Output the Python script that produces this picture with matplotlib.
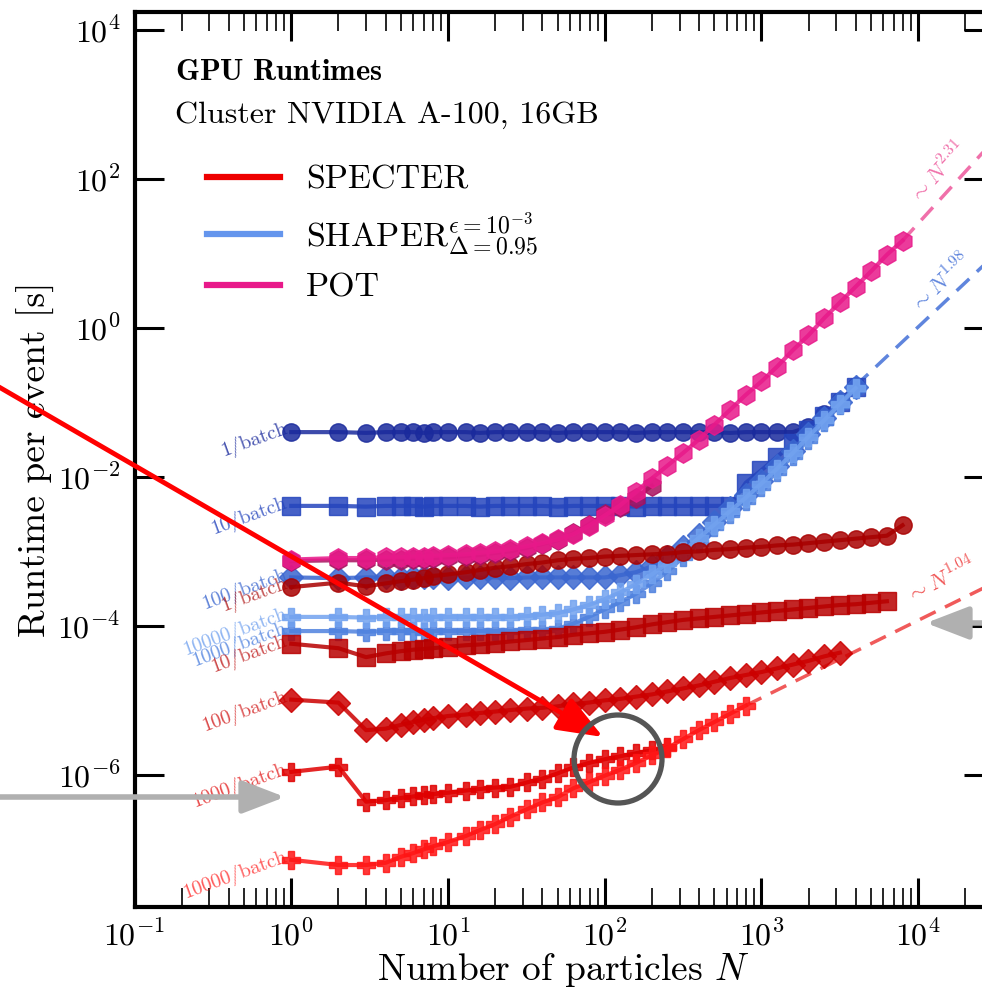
import numpy as np
import matplotlib
matplotlib.use("Agg")
import matplotlib.pyplot as plt
from matplotlib.ticker import LogLocator, FixedLocator, FuncFormatter, NullFormatter, NullLocator
from matplotlib.patches import FancyArrowPatch, Circle
from matplotlib.lines import Line2D

plt.rcParams['font.family'] = 'serif'
plt.rcParams['font.serif'] = ['cmr10']
plt.rcParams['mathtext.fontset'] = 'cm'
plt.rcParams['axes.formatter.use_mathtext'] = True

# number of particles N (measurement grid)
N = [1, 2, 3, 4, 5, 6, 7, 8, 10, 13, 16, 20, 25, 32, 40, 50, 63, 79, 100, 126, 158,
     200, 251, 316, 398, 501, 631, 794, 1000, 1259, 1585, 1995, 2512, 3162, 3981,
     5012, 6310, 7943]

# log10 of runtime per event [s]
specter_1 = [-3.48, -3.42, -3.47, -3.43, -3.40, -3.38, -3.36, -3.33, -3.31, -3.28, -3.25,
             -3.22, -3.20, -3.17, -3.15, -3.12, -3.10, -3.09, -3.07, -3.06, -3.05, -3.04,
             -3.03, -3.01, -3.00, -2.98, -2.97, -2.95, -2.94, -2.92, -2.91, -2.89, -2.87,
             -2.85, -2.83, -2.81, -2.79, -2.65]
specter_10 = [-4.24, -4.30, -4.42, -4.37, -4.34, -4.32, -4.31, -4.30, -4.28, -4.26, -4.25,
              -4.23, -4.21, -4.19, -4.17, -4.15, -4.12, -4.10, -4.08, -4.05, -4.02, -3.98,
              -3.95, -3.92, -3.90, -3.88, -3.86, -3.84, -3.82, -3.80, -3.78, -3.76, -3.74,
              -3.72, -3.71, -3.69, -3.67]
specter_100 = [-4.99, -5.03, -5.40, -5.38, -5.33, -5.29, -5.26, -5.24, -5.21, -5.19, -5.17,
               -5.15, -5.13, -5.11, -5.10, -5.08, -5.05, -5.03, -5.00, -4.98, -4.95, -4.92,
               -4.88, -4.84, -4.80, -4.75, -4.70, -4.66, -4.62, -4.57, -4.52, -4.47, -4.41,
               -4.36]
specter_1000 = [-5.96, -5.89, -6.36, -6.34, -6.31, -6.29, -6.27, -6.26, -6.24, -6.21, -6.19,
                -6.17, -6.16, -6.10, -6.05, -5.98, -5.90, -5.84, -5.79, -5.75, -5.71, -5.67,
                -5.63]
specter_10000 = [-7.14, -7.21, -7.21, -7.18, -7.10, -7.05, -7.00, -6.96, -6.90, -6.82, -6.74,
                 -6.66, -6.56, -6.46, -6.37, -6.30, -6.18, -6.10, -6.01, -5.93, -5.84, -5.74,
                 -5.64, -5.52, -5.40, -5.29, -5.18, -5.07]

shaper_1 = [-1.40, -1.40, -1.41, -1.40, -1.40, -1.40, -1.41, -1.40, -1.40, -1.40, -1.41,
            -1.40, -1.40, -1.40, -1.40, -1.41, -1.40, -1.40, -1.40, -1.40, -1.41, -1.40,
            -1.40, -1.40, -1.40, -1.40, -1.41, -1.40, -1.40, -1.40, -1.40, -1.33, -1.16,
            -0.98, -0.78]
shaper_10 = [-2.39, -2.39, -2.40, -2.39, -2.39, -2.39, -2.40, -2.39, -2.39, -2.39, -2.40,
             -2.39, -2.39, -2.39, -2.39, -2.40, -2.39, -2.39, -2.39, -2.39, -2.40, -2.39,
             -2.39, -2.39, -2.39, -2.39, -2.39, -2.08, -1.91, -1.73, -1.55, -1.37, -1.18,
             -1.00, -0.80]
shaper_100 = [-3.35, -3.36, -3.35, -3.35, -3.36, -3.35, -3.35, -3.35, -3.36, -3.35, -3.35,
              -3.35, -3.36, -3.35, -3.35, -3.35, -3.35, -3.35, -3.35, -3.32, -3.28, -3.20,
              -3.08, -2.94, -2.78, -2.60, -2.42, -2.24, -2.05, -1.86, -1.65, -1.43, -1.21,
              -1.00, -0.80]
shaper_1000 = [-4.07, -4.07, -4.08, -4.07, -4.07, -4.07, -4.08, -4.07, -4.07, -4.07, -4.07,
               -4.07, -4.07, -4.06, -4.06, -4.04, -3.97, -3.88, -3.78, -3.68, -3.57, -3.43,
               -3.27, -3.08, -2.89, -2.68, -2.50, -2.32, -2.14, -1.93, -1.72, -1.50, -1.27,
               -1.04, -0.82]
shaper_10000 = [-3.88, -3.88, -3.89, -3.88, -3.88, -3.88, -3.89, -3.88, -3.88, -3.88, -3.88,
                -3.88, -3.88, -3.87, -3.85, -3.83, -3.78, -3.72, -3.64, -3.55, -3.44, -3.31,
                -3.16, -3.00, -2.82, -2.64, -2.46, -2.28, -2.09, -1.89, -1.68, -1.46, -1.24,
                -1.02, -0.81]

pot_a = [-3.13, -3.12, -3.12, -3.11, -3.11, -3.10, -3.10, -3.09, -3.08, -3.06, -3.05,
         -3.02, -3.00, -2.95, -2.90, -2.85, -2.76, -2.64, -2.50, -2.40, -2.28, -2.12]
pot = [-3.11, -3.09, -3.09, -3.08, -3.08, -3.07, -3.07, -3.06, -3.05, -3.04, -3.02,
       -3.00, -2.97, -2.93, -2.89, -2.84, -2.77, -2.66, -2.52, -2.38, -2.20, -2.02,
       -1.85, -1.68, -1.50, -1.30, -1.10, -0.90, -0.72, -0.52, -0.30, -0.10, 0.13,
       0.34, 0.55, 0.76, 0.98, 1.17]

batch_labels = ['1/batch', '10/batch', '100/batch', '1000/batch', '10000/batch']
specter_series = [specter_1, specter_10, specter_100, specter_1000, specter_10000]
shaper_series = [shaper_1, shaper_10, shaper_100, shaper_1000, shaper_10000]
markers = ['o', 's', 'D', 'P', 'P']
specter_colors = ['#a80000', '#b80000', '#cc0000', '#e00000', '#ff1515']
shaper_colors = ['#1a2a9c', '#2545bd', '#3a66cf', '#4f82df', '#72a2ef']
pot_colors = ['#a8105e', '#e8198a']

fit_exponents = [2.31, 1.98, 1.04]   # POT, SHAPER, SPECTER
fit_colors = ['#f070aa', '#5f85dd', '#f05a5a']
fit_label_offsets = [14, 12, 19]     # points, perpendicular to the line
x_max = 3e4
y_ticks = [1e-6, 1e-4, 1e-2, 1e0, 1e2, 1e4]

fig = plt.figure(figsize=(9.82, 9.89), dpi=100)
ax = fig.add_axes([0.137, 0.0832, 0.8742, 0.905])

def draw(xs, logs, color, marker, ms=12.5, z=2):
    xs = np.array(xs[:len(logs)])
    ys = 10.0 ** np.array(logs)
    ax.plot(xs, ys, color=color, lw=3, marker=marker, ms=ms, alpha=0.85, zorder=z)
    return xs, ys

# SHAPER
shaper_end = None
for i, s in enumerate(shaper_series):
    xs, ys = draw(N, s, shaper_colors[i], markers[i])
    if i == 0:
        shaper_end = (xs[-1], ys[-1])
    ax.text(0.93, ys[0] * 1.12, batch_labels[i], color=shaper_colors[i], alpha=0.8,
            fontsize=14.5, rotation=20, ha='right', va='center', rotation_mode='anchor')

# SPECTER
specter_end = None
for i, s in enumerate(specter_series):
    xs, ys = draw(N, s, specter_colors[i], markers[i])
    if i == 4:
        specter_end = (xs[-1], ys[-1])
    ax.text(0.93, ys[0] * 1.12, batch_labels[i], color=specter_colors[i], alpha=0.7,
            fontsize=14.5, rotation=20, ha='right', va='center', rotation_mode='anchor')

# POT
draw(N, pot_a, pot_colors[0], 'h', ms=14)
xs, ys = draw(N, pot, pot_colors[1], 'h', ms=14, z=3)
pot_end = (xs[-1], ys[-1])

# power-law fits beyond the last measured point
for (x0, y0), p, c, off in zip([pot_end, shaper_end, specter_end], fit_exponents,
                               fit_colors, fit_label_offsets):
    xf = np.array([x0, x_max])
    yf = y0 * (xf / x0) ** p
    ax.plot(xf, yf, ls='--', lw=2.5, color=c, dashes=(5, 3), zorder=1)
    ang = np.arctan(p * 74.5 / 156.7)
    xt = 1.65e4
    ax.annotate(r'$\sim N^{%.2f}$' % p, xy=(xt, y0 * (xt / x0) ** p),
                xytext=(-off * np.sin(ang), off * np.cos(ang)),
                textcoords='offset points', color=c, fontsize=16,
                rotation=np.degrees(ang), ha='center', va='center',
                rotation_mode='anchor')

ax.set_xscale('log')
ax.set_yscale('log')
ax.set_xlim(0.1, x_max)
ax.set_ylim(1.7e-8, 1.75e4)

ax.xaxis.set_major_locator(LogLocator(base=10, numticks=20))
ax.xaxis.set_minor_locator(LogLocator(base=10, subs=np.arange(2, 10), numticks=20))
ax.xaxis.set_minor_formatter(NullFormatter())
ax.yaxis.set_major_locator(FixedLocator(y_ticks))
ax.yaxis.set_minor_locator(NullLocator())
fmt = FuncFormatter(lambda v, p: r'$10^{%d}$' % round(np.log10(v)))
ax.xaxis.set_major_formatter(fmt)
ax.yaxis.set_major_formatter(fmt)
ax.tick_params(which='both', direction='in', top=True, right=True, labelsize=23)
ax.tick_params(which='major', length=21, width=2.2)
ax.tick_params(axis='x', which='major', pad=9)
ax.tick_params(axis='y', which='major', pad=10)
ax.tick_params(which='minor', length=14, width=1.2)
for sp in ax.spines.values():
    sp.set_linewidth(3)

ax.set_xlabel(r'Number of particles $N$', fontsize=27, labelpad=0)
ax.set_ylabel(r'Runtime per event [s]', fontsize=27, labelpad=2)

ax.text(0.047, 0.9237, r'$\mathbf{GPU\ Runtimes}$', transform=ax.transAxes, fontsize=22)
ax.text(0.047, 0.8757, 'Cluster NVIDIA A-100, 16GB', transform=ax.transAxes, fontsize=23)

handles = [Line2D([], [], color='#ee0000', lw=4.5),
           Line2D([], [], color='#6495ed', lw=4.5),
           Line2D([], [], color='#e8198a', lw=4.5)]
names = ['SPECTER', r'SHAPER$^{\epsilon=10^{-3}}_{\Delta=0.95}$', 'POT']
ax.legend(handles, names, loc='upper left', bbox_to_anchor=(0.0845, 0.829), frameon=False,
          fontsize=24.5, borderpad=0, borderaxespad=0, handlelength=2.15, handletextpad=0.75,
          labelspacing=0.45)

# overlay annotations drawn on the figure (pixel positions, top-left origin)
H = 989
def px(x, y):
    return (x / 100.0, (H - y) / 100.0)

tr = fig.dpi_scale_trans
fig.add_artist(FancyArrowPatch(px(-20, 376), px(603, 737), transform=tr, color='#ff0000',
                               lw=3.5, arrowstyle='-|>,head_length=2.8,head_width=1.1',
                               mutation_scale=10, shrinkA=0, shrinkB=0, zorder=10))
fig.add_artist(FancyArrowPatch(px(-10, 797), px(285, 797), transform=tr, color='#b0b0b0',
                               lw=4, arrowstyle='-|>,head_length=2.6,head_width=1.0',
                               mutation_scale=10, shrinkA=0, shrinkB=0, zorder=10))
fig.add_artist(FancyArrowPatch(px(1000, 623), px(926, 623), transform=tr, color='#b0b0b0',
                               lw=4, arrowstyle='-|>,head_length=2.6,head_width=1.0',
                               mutation_scale=10, shrinkA=0, shrinkB=0, zorder=10))
fig.add_artist(Circle(px(618, 759), 0.44, transform=tr, fill=False, ec='#555555', lw=3.8,
                      zorder=10))

fig.savefig('out.png', dpi=100)
